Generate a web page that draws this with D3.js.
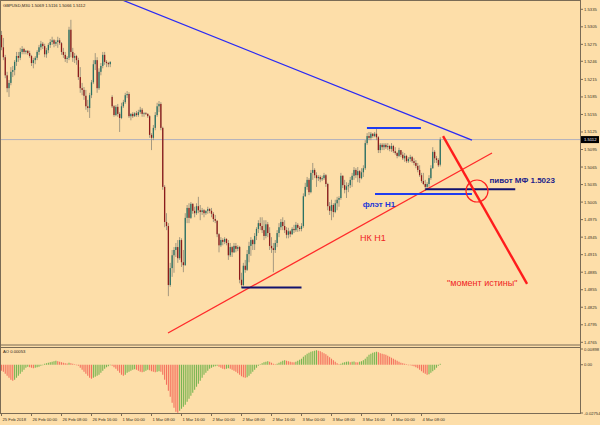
<!DOCTYPE html>
<html><head><meta charset="utf-8">
<script src="https://cdn.jsdelivr.net/npm/d3@7"></script>
<style>body{margin:0;background:#fddea9;} svg{display:block}</style>
</head><body><svg id="c" width="600" height="425"></svg>
<script>
const symbolTitle = "GBPUSD,M30";
const open = [
1.5291,1.5270,1.5253,1.5222,1.5200,1.5209,1.5228,1.5231,1.5245,1.5255,
1.5252,1.5262,1.5267,1.5262,1.5264,1.5260,1.5255,1.5243,1.5248,1.5252,
1.5262,1.5270,1.5276,1.5272,1.5258,1.5265,1.5274,1.5279,1.5282,1.5276,
1.5279,1.5282,1.5277,1.5262,1.5257,1.5250,1.5252,1.5300,1.5262,1.5252,
1.5255,1.5248,1.5219,1.5200,1.5197,1.5187,1.5169,1.5166,1.5188,1.5210,
1.5241,1.5248,1.5200,1.5228,1.5238,1.5257,1.5245,1.5243,1.5241,1.5185,
1.5169,1.5154,1.5168,1.5156,1.5149,1.5169,1.5176,1.5188,1.5190,1.5152,
1.5156,1.5152,1.5157,1.5154,1.5159,1.5163,1.5156,1.5157,1.5156,1.5152,
1.5120,1.5115,1.5132,1.5154,1.5169,1.5173,1.5132,1.5031,1.4971,1.4964,
1.4863,1.4892,1.4914,1.4923,1.4928,1.4909,1.4940,1.4902,1.4897,1.4978,
1.4995,1.4978,1.5002,1.4990,1.4986,1.4998,1.4991,1.4988,1.4991,1.4986,
1.4990,1.4993,1.4990,1.4985,1.4976,1.4973,1.4950,1.4931,1.4940,1.4937,
1.4942,1.4935,1.4914,1.4928,1.4919,1.4930,1.4925,1.4928,1.4872,1.4863,
1.4896,1.4889,1.4916,1.4930,1.4940,1.4933,1.4947,1.4959,1.4969,1.4964,
1.4957,1.4947,1.4967,1.4952,1.4930,1.4926,1.4923,1.4935,1.4952,1.4962,
1.4971,1.4964,1.4957,1.4949,1.4955,1.4950,1.4959,1.4957,1.4966,1.4961,
1.4959,1.4964,1.5015,1.5031,1.5043,1.5022,1.5055,1.5060,1.5051,1.5046,
1.5048,1.5044,1.5046,1.5051,1.5036,1.4998,1.4990,1.5000,1.4988,1.5003,
1.5009,1.5012,1.5050,1.5034,1.5026,1.5032,1.5034,1.5043,1.5050,1.5060,
1.5051,1.5058,1.5046,1.5056,1.5063,1.5106,1.5118,1.5115,1.5122,1.5118,
1.5122,1.5116,1.5094,1.5103,1.5099,1.5103,1.5099,1.5101,1.5096,1.5101,
1.5092,1.5089,1.5084,1.5094,1.5086,1.5080,1.5084,1.5075,1.5079,1.5082,
1.5075,1.5072,1.5067,1.5060,1.5051,1.5041,1.5036,1.5031,1.5036,1.5046,
1.5063,1.5091,1.5080,1.5077,1.5069];
const high = [
1.5298,1.5286,1.5257,1.5228,1.5214,1.5236,1.5238,1.5248,1.5262,1.5262,
1.5269,1.5272,1.5269,1.5265,1.5265,1.5264,1.5257,1.5252,1.5255,1.5265,
1.5274,1.5281,1.5279,1.5276,1.5269,1.5277,1.5284,1.5288,1.5284,1.5282,
1.5288,1.5286,1.5279,1.5269,1.5262,1.5255,1.5305,1.5317,1.5269,1.5260,
1.5257,1.5252,1.5236,1.5209,1.5202,1.5197,1.5180,1.5192,1.5214,1.5248,
1.5260,1.5253,1.5234,1.5243,1.5262,1.5262,1.5248,1.5245,1.5246,1.5188,
1.5171,1.5171,1.5173,1.5159,1.5175,1.5180,1.5192,1.5195,1.5193,1.5157,
1.5159,1.5159,1.5161,1.5163,1.5168,1.5166,1.5159,1.5159,1.5157,1.5154,
1.5123,1.5137,1.5159,1.5175,1.5178,1.5176,1.5134,1.5034,1.4986,1.4969,
1.4901,1.4923,1.4928,1.4935,1.4940,1.4945,1.4943,1.4923,1.4986,1.5000,
1.5003,1.5005,1.5003,1.4997,1.5003,1.5014,1.5000,1.4995,1.4993,1.4991,
1.4997,1.4995,1.4995,1.4988,1.4983,1.4974,1.4952,1.4945,1.4943,1.4945,
1.4943,1.4940,1.4935,1.4930,1.4935,1.4935,1.4931,1.4930,1.4884,1.4901,
1.4906,1.4923,1.4937,1.4945,1.4942,1.4952,1.4962,1.4974,1.4979,1.4979,
1.4974,1.4974,1.4971,1.4962,1.4945,1.4935,1.4940,1.4957,1.4969,1.4976,
1.4979,1.4974,1.4962,1.4961,1.4957,1.4962,1.4966,1.4971,1.4969,1.4964,
1.4969,1.5020,1.5038,1.5048,1.5046,1.5060,1.5072,1.5063,1.5056,1.5051,
1.5051,1.5050,1.5055,1.5053,1.5038,1.5005,1.5009,1.5003,1.5009,1.5014,
1.5015,1.5055,1.5051,1.5043,1.5039,1.5038,1.5048,1.5055,1.5065,1.5063,
1.5065,1.5060,1.5063,1.5068,1.5111,1.5123,1.5125,1.5125,1.5123,1.5125,
1.5130,1.5118,1.5106,1.5106,1.5106,1.5106,1.5106,1.5103,1.5106,1.5103,
1.5099,1.5091,1.5098,1.5094,1.5091,1.5089,1.5086,1.5082,1.5086,1.5084,
1.5080,1.5077,1.5072,1.5068,1.5055,1.5055,1.5043,1.5039,1.5051,1.5068,
1.5099,1.5094,1.5084,1.5080,1.5116];
const low = [
1.5265,1.5248,1.5217,1.5193,1.5185,1.5205,1.5219,1.5222,1.5238,1.5245,
1.5248,1.5258,1.5258,1.5258,1.5257,1.5252,1.5238,1.5234,1.5241,1.5248,
1.5257,1.5265,1.5267,1.5253,1.5252,1.5260,1.5269,1.5274,1.5270,1.5272,
1.5269,1.5274,1.5257,1.5252,1.5245,1.5243,1.5248,1.5253,1.5245,1.5243,
1.5240,1.5214,1.5192,1.5188,1.5180,1.5163,1.5159,1.5149,1.5183,1.5207,
1.5231,1.5192,1.5197,1.5222,1.5234,1.5240,1.5236,1.5236,1.5236,1.5166,
1.5151,1.5152,1.5151,1.5125,1.5147,1.5166,1.5173,1.5183,1.5149,1.5145,
1.5149,1.5151,1.5151,1.5151,1.5156,1.5151,1.5151,1.5154,1.5149,1.5115,
1.5094,1.5111,1.5128,1.5151,1.5159,1.5128,1.5026,1.4962,1.4957,1.4844,
1.4860,1.4877,1.4884,1.4911,1.4901,1.4906,1.4894,1.4885,1.4896,1.4969,
1.4969,1.4976,1.4985,1.4979,1.4983,1.4986,1.4974,1.4983,1.4979,1.4983,
1.4985,1.4986,1.4979,1.4971,1.4969,1.4945,1.4919,1.4928,1.4931,1.4933,
1.4931,1.4906,1.4911,1.4911,1.4918,1.4919,1.4921,1.4866,1.4858,1.4861,
1.4884,1.4887,1.4902,1.4913,1.4923,1.4923,1.4940,1.4952,1.4957,1.4952,
1.4940,1.4943,1.4945,1.4923,1.4918,1.4885,1.4918,1.4928,1.4945,1.4957,
1.4957,1.4952,1.4943,1.4943,1.4945,1.4949,1.4952,1.4954,1.4954,1.4955,
1.4955,1.4961,1.5014,1.5026,1.5017,1.5020,1.5043,1.5046,1.5031,1.5041,
1.5039,1.5041,1.5043,1.5031,1.4991,1.4983,1.4974,1.4979,1.4986,1.4991,
1.4997,1.5009,1.5029,1.5020,1.5012,1.5022,1.5029,1.5031,1.5043,1.5046,
1.5039,1.5038,1.5044,1.5048,1.5060,1.5103,1.5111,1.5111,1.5115,1.5116,
1.5111,1.5089,1.5089,1.5094,1.5094,1.5096,1.5094,1.5092,1.5091,1.5089,
1.5086,1.5080,1.5082,1.5082,1.5077,1.5074,1.5072,1.5072,1.5074,1.5072,
1.5068,1.5063,1.5056,1.5048,1.5038,1.5034,1.5024,1.5026,1.5031,1.5043,
1.5062,1.5072,1.5072,1.5065,1.5066];
const close = [
1.5270,1.5253,1.5222,1.5200,1.5209,1.5228,1.5231,1.5245,1.5255,1.5252,
1.5262,1.5267,1.5262,1.5264,1.5260,1.5255,1.5243,1.5248,1.5252,1.5262,
1.5270,1.5276,1.5272,1.5258,1.5265,1.5274,1.5279,1.5282,1.5276,1.5279,
1.5282,1.5277,1.5262,1.5257,1.5250,1.5252,1.5300,1.5262,1.5252,1.5255,
1.5248,1.5219,1.5200,1.5197,1.5187,1.5169,1.5166,1.5188,1.5210,1.5241,
1.5248,1.5200,1.5228,1.5238,1.5257,1.5245,1.5243,1.5241,1.5245,1.5169,
1.5154,1.5168,1.5156,1.5149,1.5169,1.5176,1.5188,1.5190,1.5152,1.5156,
1.5152,1.5157,1.5154,1.5159,1.5163,1.5156,1.5157,1.5156,1.5152,1.5120,
1.5115,1.5132,1.5154,1.5169,1.5173,1.5132,1.5031,1.4971,1.4964,1.4863,
1.4892,1.4914,1.4923,1.4928,1.4909,1.4940,1.4902,1.4897,1.4978,1.4995,
1.4978,1.5002,1.4990,1.4986,1.4998,1.4991,1.4988,1.4991,1.4986,1.4990,
1.4993,1.4990,1.4985,1.4976,1.4973,1.4950,1.4931,1.4940,1.4937,1.4942,
1.4935,1.4914,1.4928,1.4919,1.4930,1.4925,1.4928,1.4872,1.4863,1.4896,
1.4889,1.4916,1.4930,1.4940,1.4933,1.4947,1.4959,1.4969,1.4964,1.4957,
1.4947,1.4967,1.4952,1.4930,1.4926,1.4923,1.4935,1.4952,1.4962,1.4971,
1.4964,1.4957,1.4949,1.4955,1.4950,1.4959,1.4957,1.4966,1.4961,1.4959,
1.4964,1.5015,1.5031,1.5043,1.5022,1.5055,1.5060,1.5051,1.5046,1.5048,
1.5044,1.5046,1.5051,1.5036,1.4998,1.4990,1.5000,1.4988,1.5003,1.5009,
1.5012,1.5050,1.5034,1.5026,1.5032,1.5034,1.5043,1.5050,1.5060,1.5051,
1.5058,1.5046,1.5056,1.5063,1.5106,1.5118,1.5115,1.5122,1.5118,1.5122,
1.5116,1.5094,1.5103,1.5099,1.5103,1.5099,1.5101,1.5096,1.5101,1.5092,
1.5089,1.5084,1.5094,1.5086,1.5080,1.5084,1.5075,1.5079,1.5082,1.5075,
1.5072,1.5067,1.5060,1.5051,1.5041,1.5036,1.5031,1.5036,1.5046,1.5063,
1.5091,1.5080,1.5077,1.5068,1.5112];
const ao = [
-0.00343,-0.00400,-0.00514,-0.00628,-0.00742,-0.00857,-0.00914,-0.00857,-0.00742,-0.00628,
-0.00514,-0.00400,-0.00286,-0.00171,-0.00114,-0.00143,-0.00171,-0.00200,-0.00171,-0.00143,
-0.00114,-0.00057,0.00000,0.00057,0.00086,0.00114,0.00143,0.00171,0.00200,0.00228,
0.00200,0.00171,0.00143,0.00114,0.00086,0.00069,0.00114,0.00086,0.00057,0.00029,
0.00000,-0.00057,-0.00171,-0.00286,-0.00400,-0.00514,-0.00628,-0.00742,-0.00799,-0.00742,
-0.00685,-0.00628,-0.00571,-0.00457,-0.00343,-0.00228,-0.00143,-0.00086,-0.00029,-0.00057,
-0.00143,-0.00228,-0.00343,-0.00457,-0.00571,-0.00628,-0.00571,-0.00457,-0.00400,-0.00343,
-0.00286,-0.00257,-0.00286,-0.00343,-0.00400,-0.00428,-0.00400,-0.00343,-0.00286,-0.00314,
-0.00371,-0.00400,-0.00428,-0.00400,-0.00371,-0.00400,-0.00571,-0.00857,-0.01142,-0.01485,
-0.01827,-0.02170,-0.02455,-0.02684,-0.02741,-0.02627,-0.02512,-0.02398,-0.02284,-0.02113,
-0.01941,-0.01770,-0.01599,-0.01428,-0.01256,-0.01085,-0.00914,-0.00742,-0.00571,-0.00457,
-0.00343,-0.00228,-0.00171,-0.00114,-0.00086,-0.00057,-0.00114,-0.00171,-0.00228,-0.00257,
-0.00228,-0.00200,-0.00228,-0.00286,-0.00343,-0.00400,-0.00485,-0.00571,-0.00657,-0.00714,
-0.00742,-0.00714,-0.00628,-0.00514,-0.00400,-0.00286,-0.00171,-0.00057,0.00029,0.00086,
0.00143,0.00171,0.00200,0.00171,0.00114,0.00057,0.00029,0.00057,0.00114,0.00171,
0.00228,0.00257,0.00228,0.00200,0.00171,0.00143,0.00137,0.00171,0.00228,0.00286,
0.00343,0.00457,0.00542,0.00628,0.00685,0.00742,0.00771,0.00799,0.00828,0.00799,
0.00771,0.00714,0.00657,0.00600,0.00514,0.00428,0.00343,0.00257,0.00171,0.00086,
0.00029,0.00057,0.00114,0.00143,0.00171,0.00183,0.00143,0.00171,0.00183,0.00143,
0.00137,0.00171,0.00200,0.00257,0.00343,0.00457,0.00571,0.00628,0.00685,0.00714,
0.00742,0.00714,0.00657,0.00628,0.00600,0.00571,0.00514,0.00457,0.00400,0.00343,
0.00286,0.00228,0.00171,0.00114,0.00086,0.00057,0.00029,0.00000,-0.00029,-0.00057,
-0.00086,-0.00143,-0.00200,-0.00286,-0.00371,-0.00457,-0.00514,-0.00571,-0.00542,-0.00457,
-0.00371,-0.00286,-0.00171,-0.00057,0.00053];
const priceTickLabels = ["1.5335","1.5305","1.5275","1.5246","1.5215","1.5185","1.5155","1.5125","1.5095","1.5065","1.5035","1.5005","1.4975","1.4945","1.4915","1.4885","1.4855","1.4825","1.4795","1.4765"];
const timeTickIndex = [0,16,32,48,64,80,96,112,128,144,160,176,192,208,224];
const timeTickLabels = ["25 Feb 2018","26 Feb 00:00","26 Feb 08:00","26 Feb 16:00","1 Mar 00:00","1 Mar 08:00","1 Mar 16:00","2 Mar 00:00","2 Mar 08:00","2 Mar 16:00","3 Mar 00:00","3 Mar 08:00","3 Mar 16:00","4 Mar 00:00","4 Mar 08:00"];
const aoTickValues = [0.00898, 0, -0.02754];
const aoTickLabels = ["0.00898","0.00","-0.02754"];
const currentPrice = 1.5112;
// drawn objects in (bar index, price) coordinates
const resistanceLine = [[64.3, 1.5351],[250.9, 1.5111]];
const supportLine = [[88.8, 1.4781],[261.6, 1.5089]];
const forecastLine = [[235.5, 1.5118],[280.3, 1.4865]];
const pivotCircle = [253.6, 1.5024];
const levels = [
  {from:194.9, to:223.7, price:1.5132, color:"#1f3cf0"},
  {from:199.2, to:250.9, price:1.5019, color:"#1f3cf0"},
  {from:226.0, to:274.0, price:1.5027, color:"#12126e"},
  {from:128.0, to:160.0, price:1.4859, color:"#12126e"}
];
const notes = [
  {i:260.2, p:1.50385, text:"пивот МФ 1.5023", color:"#22228a", size:8, weight:"bold"},
  {i:192.6, p:1.49960, text:"флэт H1", color:"#2238d8", size:8, weight:"bold"},
  {i:191.2, p:1.49383, text:"НК Н1", color:"#f02424", size:9, weight:"normal"},
  {i:237.6, p:1.48613, text:"\"момент истины\"", color:"#f02424", size:9, weight:"normal"}
];

const W = 600, H = 425, bg = "#fddea9", frame = "#7a6b55", axisText = "#3a3328";
const svg = d3.select("#c");
svg.append("rect").attr("width", W).attr("height", H).attr("fill", bg);
const defs = svg.append("defs");
defs.append("clipPath").attr("id","clipMain").append("rect").attr("x",0).attr("y",0).attr("width",580).attr("height",344.5);
defs.append("clipPath").attr("id","clipAO").append("rect").attr("x",0).attr("y",347.5).attr("width",580).attr("height",65.5);

const x = d3.scaleLinear().domain([0, 1]).range([1.5, 3.375]);
const y = d3.scaleLinear().domain([1.4765, 1.5335]).range([342.3, 9.3]);
const ya = d3.scaleLinear().domain([-0.02754, 0.00898]).range([413, 349]);
const font = "'Liberation Sans', Arial, sans-serif";

const main = svg.append("g").attr("clip-path", "url(#clipMain)");
// bid line
main.append("line").attr("x1", 0).attr("x2", 580).attr("y1", y(currentPrice)).attr("y2", y(currentPrice))
  .attr("stroke", "#a7a9bf").attr("stroke-width", 0.9);

const idx = d3.range(close.length);
main.append("g").selectAll("line").data(idx).join("line")
  .attr("x1", i => x(i)).attr("x2", i => x(i))
  .attr("y1", i => y(high[i])).attr("y2", i => y(low[i]))
  .attr("stroke", "#8e8877").attr("stroke-opacity", 0.8).attr("stroke-width", 1);
main.append("g").selectAll("rect").data(idx).join("rect")
  .attr("x", i => x(i) - 0.65).attr("width", 1.3)
  .attr("y", i => y(Math.max(open[i], close[i])))
  .attr("height", i => Math.max(0.8, Math.abs(y(open[i]) - y(close[i]))))
  .attr("fill", i => close[i] >= open[i] ? "#2a7264" : "#8c1b1b");

// drawn objects
const line = d3.line().x(d => x(d[0])).y(d => y(d[1]));
main.append("path").attr("d", line(resistanceLine)).attr("stroke", "#2a2af5").attr("stroke-width", 1.3).attr("fill", "none");
main.append("path").attr("d", line(supportLine)).attr("stroke", "#ff2a2a").attr("stroke-width", 1.3).attr("fill", "none");
levels.forEach(l => {
  main.append("line").attr("x1", x(l.from)).attr("x2", x(l.to)).attr("y1", y(l.price)).attr("y2", y(l.price))
    .attr("stroke", l.color).attr("stroke-width", 2);
});
main.append("path").attr("d", line(forecastLine)).attr("stroke", "#ff1c1c").attr("stroke-width", 2.4).attr("fill", "none");
main.append("circle").attr("cx", x(pivotCircle[0])).attr("cy", y(pivotCircle[1])).attr("r", 11)
  .attr("fill", "none").attr("stroke", "#ff2020").attr("stroke-width", 1.2);
notes.forEach(n => {
  main.append("text").attr("x", x(n.i)).attr("y", y(n.p)).text(n.text)
    .attr("font-family", font).attr("font-size", n.size).attr("font-weight", n.weight).attr("fill", n.color);
});

// header
svg.append("text").attr("x", 3).attr("y", 7).attr("font-family", font).attr("font-size", 4.2).attr("fill", "#2a2418")
  .text(symbolTitle + "  " + [open, high, low, close].map(a => a[a.length - 1].toFixed(4)).join(" "));

// AO panel
const aoG = svg.append("g").attr("clip-path", "url(#clipAO)");
aoG.append("g").selectAll("rect").data(idx).join("rect")
  .attr("x", i => x(i) - 0.55).attr("width", 1.1)
  .attr("y", i => Math.min(ya(0), ya(ao[i])))
  .attr("height", i => Math.max(0.5, Math.abs(ya(ao[i]) - ya(0))))
  .attr("fill", i => (i > 0 && ao[i] > ao[i - 1]) ? "#79b552" : "#f4715e");
svg.append("text").attr("x", 3).attr("y", 353).attr("font-family", font).attr("font-size", 4.2).attr("fill", "#2a2418")
  .text("AO " + ao[ao.length - 1].toFixed(5));

// frames
const fr = svg.append("g").attr("stroke", frame).attr("fill", "none").attr("stroke-width", 1);
fr.append("line").attr("x1", 0.5).attr("x2", 0.5).attr("y1", 0).attr("y2", 413.5);
fr.append("line").attr("x1", 0).attr("x2", 581).attr("y1", 0.5).attr("y2", 0.5);
fr.append("line").attr("x1", 580.5).attr("x2", 580.5).attr("y1", 0).attr("y2", 413.5);
fr.append("line").attr("x1", 0).attr("x2", 581).attr("y1", 345).attr("y2", 345);
fr.append("line").attr("x1", 0).attr("x2", 581).attr("y1", 347.5).attr("y2", 347.5);
fr.append("line").attr("x1", 0).attr("x2", 581).attr("y1", 413.5).attr("y2", 413.5);

// price axis
const pa = svg.append("g");
priceTickLabels.forEach(t => {
  const yy = y(+t);
  pa.append("line").attr("x1", 580.5).attr("x2", 583).attr("y1", yy).attr("y2", yy).attr("stroke", frame);
  pa.append("text").attr("x", 584).attr("y", yy + 1.5).text(t).attr("font-family", font).attr("font-size", 4.2).attr("fill", axisText);
});
const cy = y(currentPrice);
pa.append("rect").attr("x", 581).attr("y", cy - 3.5).attr("width", 18).attr("height", 7).attr("fill", "#000");
pa.append("text").attr("x", 584).attr("y", cy + 1.5).text(currentPrice.toFixed(4)).attr("font-family", font).attr("font-size", 4.2).attr("fill", "#fff");

// AO axis
aoTickValues.forEach((v, k) => {
  const yy = ya(v);
  pa.append("line").attr("x1", 580.5).attr("x2", 583).attr("y1", yy).attr("y2", yy).attr("stroke", frame);
  pa.append("text").attr("x", 584).attr("y", yy + 1.5).text(aoTickLabels[k]).attr("font-family", font).attr("font-size", 4.2).attr("fill", axisText);
});

// time axis
timeTickIndex.forEach((ti, k) => {
  const xx = x(ti);
  pa.append("line").attr("x1", xx).attr("x2", xx).attr("y1", 413.5).attr("y2", 416).attr("stroke", frame);
  pa.append("text").attr("x", xx + 1).attr("y", 420.5).text(timeTickLabels[k]).attr("font-family", font).attr("font-size", 4.2).attr("fill", axisText);
});
</script></body></html>
